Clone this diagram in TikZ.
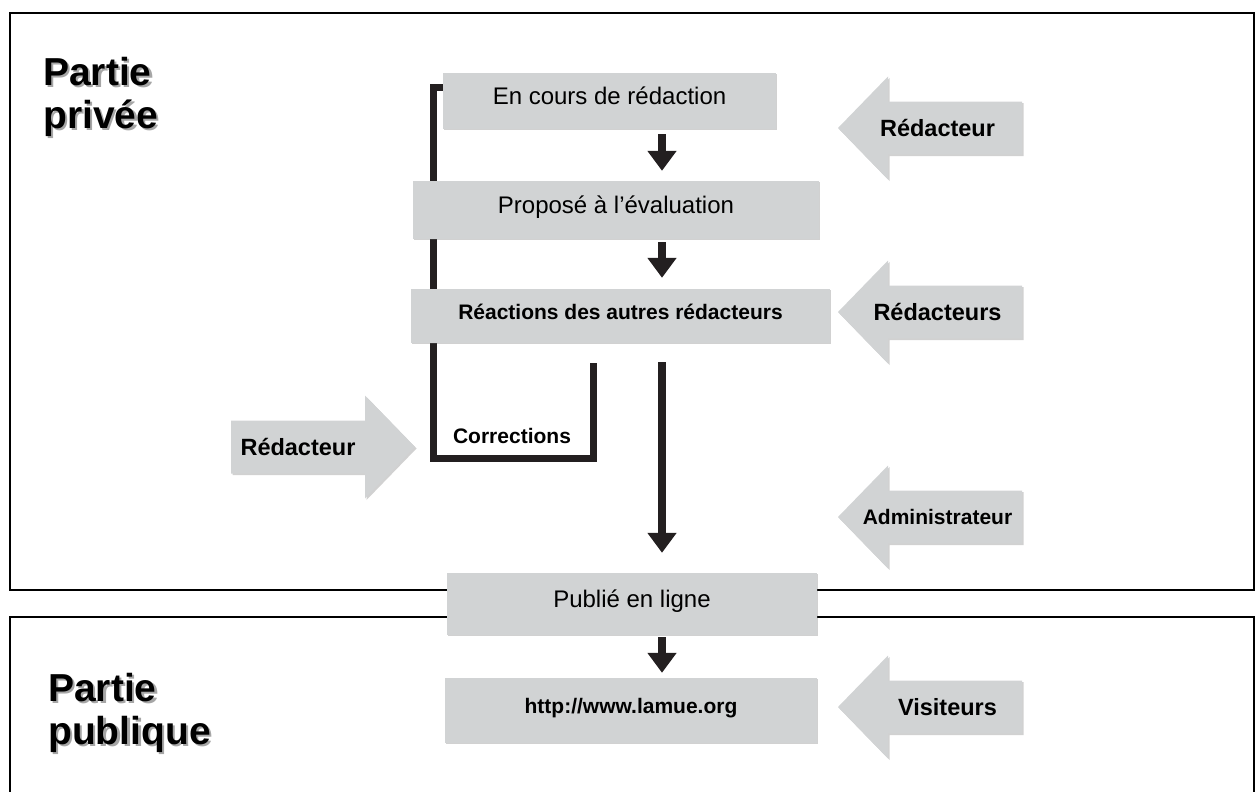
\documentclass[tikz,border=0pt]{standalone}
\usepackage{fontspec}
\setmainfont{Liberation Sans}
\usetikzlibrary{
    arrows.meta,
    shadows,
    positioning
}
\definecolor{boxgray}{HTML}{D1D3D4}
\definecolor{inkdark}{HTML}{231F20}
\tikzset{
    stepbox/.style={fill=boxgray, inner sep=0pt, text height=16pt, text depth=10pt,
        drop shadow={shadow xshift=1.2pt, shadow yshift=-1.2pt, opacity=0.3, fill=black!60}},
    normaltext/.style={font=\fontsize{24}{28}\selectfont},
    boldtext/.style={font=\bfseries\fontsize{21}{25}\selectfont},
    flow/.style={draw=inkdark, line width=8pt, -{Triangle[width=28pt,length=20pt]}},
    loopline/.style={draw=inkdark, line width=7pt},
    frame/.style={draw=black, line width=1.8pt},
    actor/.style={fill=boxgray,
        drop shadow={shadow xshift=1.5pt, shadow yshift=-1.5pt, opacity=0.3, fill=black!60}},
    actorlabel/.style={font=\bfseries\fontsize{23.5}{28}\selectfont, inner sep=0pt},
    title/.style={font=\bfseries\fontsize{39}{43}\selectfont, align=left, inner sep=0pt, anchor=north west},
    titleshadow/.style={title, text=black!35},
    leftactor/.pic={
        \path[actor] (0,0) -- (50,-51.5) -- (50,-26.5) -- (184,-26.5)
            -- (184,26.5) -- (50,26.5) -- (50,51.5) -- cycle;
    }
}

\begin{document}
\begin{tikzpicture}[x=1pt, y=-1pt]
    \useasboundingbox (0,0) rectangle (1256,792);

    % the two parts
    \draw[frame] (10,13) rectangle (1254,590);
    \draw[frame] (10,792) -- (10,617) -- (1254,617) -- (1254,792);

    \node[titleshadow] (privshadow) at (45.5,59.5) {Partie\\privée};
    \node[title] (priv) at (43,57) {Partie\\privée};
    \node[titleshadow] (pubshadow) at (50.5,675.5) {Partie\\publique};
    \node[title] (pub) at (48,673) {Partie\\publique};

    \coordinate (spine) at (662,0);
    \coordinate (loopend) at (593,363);

    % loop of the corrections, behind the boxes
    \draw[loopline] (443,88) -| (433,458) -| (loopend);
    \node[boldtext] (corr) at (512,436) {Corrections};

    % workflow
    \node[stepbox, normaltext, minimum width=333pt, minimum height=56pt] (s1) at (609.5,101) {En cours de rédaction};
    \node[stepbox, normaltext, minimum width=406pt, minimum height=58pt] (s2) at (616,210) {Proposé à l’évaluation};
    \node[stepbox, boldtext, minimum width=419pt, minimum height=54pt] (s3) at (620.5,316) {Réactions des autres rédacteurs};
    \node[stepbox, normaltext, minimum width=370pt, minimum height=62pt] (s4) at (632,604) {Publié en ligne};
    \node[stepbox, boldtext, minimum width=372pt, minimum height=65pt] (s5) at (631,710.5) {http://www.lamue.org};

    \draw[flow, shorten <=5pt, shorten >=10pt] (s1.south -| spine) -- (s2.north -| spine);
    \draw[flow, shorten <=3pt, shorten >=11pt] (s2.south -| spine) -- (s3.north -| spine);
    \draw[flow, shorten <=19pt, shorten >=20pt] (s3.south -| spine) -- (s4.north -| spine);
    \draw[flow, shorten <=2pt, shorten >=5pt] (s4.south -| spine) -- (s5.north -| spine);

    % who acts
    \pic at (838,128) {leftactor};
    \pic at (838,312) {leftactor};
    \pic at (838,517) {leftactor};
    \pic at (838,707) {leftactor};
    \pic[xscale=-1] at (415,447) {leftactor};

    \node[actorlabel] (a1) at (937.5,128) {Rédacteur};
    \node[actorlabel] (a2) at (937.5,312) {Rédacteurs};
    \node[actorlabel, font=\bfseries\fontsize{21}{25}\selectfont] (a3) at (937.5,517) {Administrateur};
    \node[actorlabel] (a4) at (947.5,707) {Visiteurs};
    \node[actorlabel] (a5) at (298,447) {Rédacteur};
\end{tikzpicture}
\end{document}
